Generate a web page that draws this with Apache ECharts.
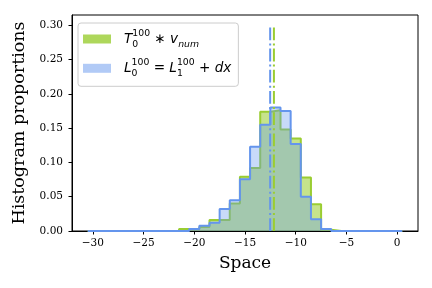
<!DOCTYPE html>
<html><head><meta charset="utf-8">
<script src="https://cdn.jsdelivr.net/npm/echarts@6/dist/echarts.min.js"></script>
<style>html,body{margin:0;padding:0;background:#fff}#c{width:432px;height:288px}</style>
</head><body><div id="c"></div>
<script>
const binCenters = [-30,-29,-28,-27,-26,-25,-24,-23,-22,-21,-20,-19,-18,-17,-16,-15,-14,-13,-12,-11,-10,-9,-8,-7,-6,-5,-4,-3,-2,-1,0];
const tValues = [0,0,0,0,0,0,0,0,0,0.003,0.003,0.006,0.016,0.016,0.040,0.079,0.092,0.174,0.176,0.148,0.135,0.078,0.039,0.002,0,0,0,0,0,0,0];
const lValues = [0,0,0,0,0,0,0,0,0,0,0.003,0.0075,0.012,0.032,0.045,0.0755,0.123,0.155,0.180,0.175,0.127,0.050,0.017,0.003,0,0,0,0,0,0,0];
const meanT = -12.15;
const meanL = -12.52;
const meanLineTop = 0.3;
const xTicks = [-30,-25,-20,-15,-10,-5,0];
const yTicks = [0,0.05,0.10,0.15,0.20,0.25,0.30];

function stepData(vals){
  const half = (binCenters[1]-binCenters[0])/2;
  const d = [[binCenters[0]-half, 0]];
  vals.forEach((v,i)=>d.push([binCenters[i]-half, v]));
  const last = binCenters.length-1;
  d.push([binCenters[last]+half, vals[last]]);
  d.push([binCenters[last]+half, 0]);
  return d;
}
const serif = 'DejaVu Serif';
const chart = echarts.init(document.getElementById('c'), null, {renderer:'canvas'});
const dashDot = [12.8,3.2,2,3.2];
chart.setOption({
  animation:false,
  backgroundColor:'#fff',
  grid:{left:72,right:14,top:15,bottom:57,show:true,borderColor:'#000',borderWidth:1,backgroundColor:'transparent'},
  xAxis:{type:'value',min:-32.05,max:2.05,
    axisLine:{show:true,onZero:false,lineStyle:{color:'#000',width:1}},
    splitLine:{show:false},
    axisTick:{show:true,length:3.5,customValues:xTicks,lineStyle:{color:'#000'}},
    axisLabel:{customValues:xTicks,formatter:v=>String(v).replace('-','\u2212'),fontFamily:serif,fontSize:10.5,color:'#000',margin:7},
    name:'Space',nameLocation:'middle',nameGap:24,nameTextStyle:{fontFamily:serif,fontSize:17,color:'#000'}},
  yAxis:{type:'value',min:0,max:0.315,
    axisLine:{show:true,onZero:false,lineStyle:{color:'#000',width:1}},
    splitLine:{show:false},
    axisTick:{show:true,length:3.5,customValues:yTicks,lineStyle:{color:'#000'}},
    axisLabel:{customValues:yTicks,formatter:v=>v.toFixed(2),fontFamily:serif,fontSize:10.5,color:'#000',margin:9},
    name:'Histogram proportions',nameLocation:'middle',nameGap:43,nameRotate:90,nameTextStyle:{fontFamily:serif,fontSize:17.5,color:'#000'}},
  legend:{
    left:78,top:23,orient:'vertical',icon:'rect',itemWidth:28,itemHeight:9,itemGap:9.3,
    padding:[6,7,8,5],borderColor:'#ccc',borderWidth:1,borderRadius:3,backgroundColor:'rgba(255,255,255,0.8)',
    data:[{name:'T',itemStyle:{color:'rgba(154,205,50,0.8)',borderWidth:0}},{name:'L',itemStyle:{color:'rgba(100,149,237,0.5)',borderWidth:0}}],
    formatter:n=> n==='T' ? '{it|T}{sb|0}{sp|100}{op| \u2217 }{it|v}{sbi|num}' : '{it|L}{sb|0}{sp|100}{op| = }{it|L}{sb|1}{sp|100}{op| + }{it|dx}',
    textStyle:{padding:[0,0,0,8],rich:{
      it:{fontFamily:'DejaVu Sans',fontStyle:'italic',fontSize:13.6,lineHeight:20,color:'#000'},
      op:{fontFamily:'DejaVu Sans',fontSize:13.6,lineHeight:20,color:'#000'},
      sb:{fontFamily:'DejaVu Sans',fontSize:9.3,lineHeight:12,verticalAlign:'bottom',width:0,color:'#000'},
      sbi:{fontFamily:'DejaVu Sans',fontStyle:'italic',fontSize:9.3,lineHeight:12,verticalAlign:'bottom',color:'#000'},
      sp:{fontFamily:'DejaVu Sans',fontSize:9.3,lineHeight:10,verticalAlign:'top',color:'#000'}
    }}
  },
  series:[
    {name:'T',type:'line',step:'end',data:stepData(tValues),showSymbol:false,symbol:'none',
     lineStyle:{color:'#9acd32',width:2},itemStyle:{color:'#9acd32'},areaStyle:{color:'rgba(154,205,50,0.8)',origin:0},z:2},
    {name:'L',type:'line',step:'end',data:stepData(lValues),showSymbol:false,symbol:'none',
     lineStyle:{color:'#6495ed',width:2},itemStyle:{color:'#6495ed'},areaStyle:{color:'rgba(100,149,237,0.5)',origin:0},z:3},
    {name:'meanT',type:'line',data:[[meanT,0],[meanT,meanLineTop]],showSymbol:false,symbol:'none',
     lineStyle:{color:'#9acd32',width:2,type:dashDot},z:4},
    {name:'meanL',type:'line',data:[[meanL,0],[meanL,meanLineTop]],showSymbol:false,symbol:'none',
     lineStyle:{color:'#6495ed',width:2,type:dashDot},z:4}
  ]
});
</script></body></html>
